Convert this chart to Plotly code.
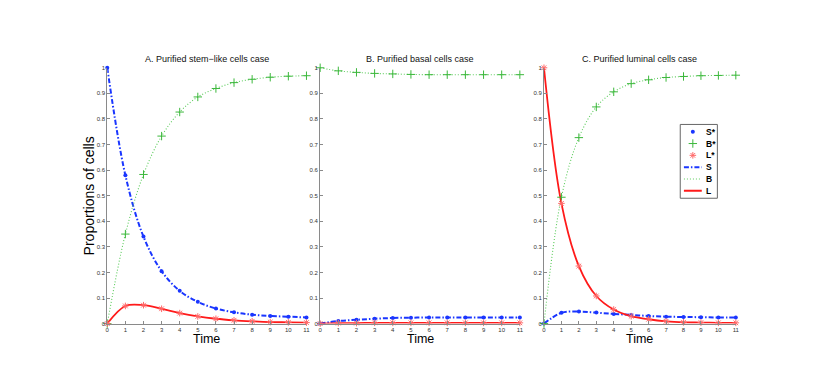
import plotly.graph_objects as go

# The page body has an 8px default margin; work in page pixels and convert.
OFF = 8
W, H = 801, 374

time = list(range(12))

panel_titles = [
    "A. Purified stem\u2212like cells case",
    "B. Purified basal cells case",
    "C. Purified luminal cells case",
]

# Panel A: purified stem-like cells
A_S = [1.0, 0.58, 0.34, 0.205, 0.128, 0.085, 0.059, 0.044, 0.035, 0.030, 0.027, 0.024]
A_B = [0.0, 0.35, 0.583, 0.733, 0.827, 0.886, 0.919, 0.942, 0.955, 0.963, 0.967, 0.969]
A_L = [0.0, 0.069, 0.072, 0.058, 0.041, 0.028, 0.019, 0.013, 0.009, 0.006, 0.005, 0.004]

# Panel B: purified basal cells
B_S = [0.0, 0.010, 0.015, 0.019, 0.022, 0.023, 0.024, 0.024, 0.024, 0.024, 0.024, 0.024]
B_B = [1.0, 0.988, 0.982, 0.978, 0.976, 0.974, 0.973, 0.973, 0.973, 0.973, 0.973, 0.973]
B_L = [0.0, 0.002, 0.002, 0.003, 0.003, 0.003, 0.003, 0.003, 0.003, 0.003, 0.003, 0.003]

# Panel C: purified luminal cells
C_S = [0.0, 0.042, 0.047, 0.043, 0.038, 0.034, 0.030, 0.027, 0.026, 0.025, 0.024, 0.024]
C_B = [0.0, 0.494, 0.727, 0.847, 0.906, 0.938, 0.953, 0.962, 0.966, 0.969, 0.970, 0.971]
C_L = [1.0, 0.47, 0.225, 0.108, 0.055, 0.029, 0.017, 0.009, 0.005, 0.004, 0.003, 0.003]

panels = [(A_S, A_B, A_L), (B_S, B_B, B_L), (C_S, C_B, C_L)]

legend_labels = ["S*", "B*", "L*", "S", "B", "L"]

y_ticks = [0, 0.1, 0.2, 0.3, 0.4, 0.5, 0.6, 0.7, 0.8, 0.9, 1]
y_ticktext = ["0", "0.1", "0.2", "0.3", "0.4", "0.5", "0.6", "0.7", "0.8", "0.9", "1"]

BLUE = "#1a36ff"
GREEN = "#3cb83c"
GREEN_L = "#5ccc5c"
RED = "#ff1a1a"
RED_M = "#ff6a6a"

S_LINE = dict(color=BLUE, width=2, dash="5px,2px,1.5px,2px")
B_LINE = dict(color=GREEN_L, width=1.1, dash="1px,2px")
L_LINE = dict(color=RED, width=1.8)
S_MARK = dict(color=BLUE, size=4, symbol="circle")
B_MARK = dict(color=GREEN, size=6, symbol="cross-thin", line=dict(color=GREEN, width=1))
L_MARK = dict(color=RED_M, size=5.5, symbol="asterisk-open", line=dict(color=RED_M, width=1))


def px_x(p):
    return (p - OFF) / W


def px_y(p):
    return 1 - (p - OFF) / H


# page-pixel layout of the axes
x_px = [(106, 306.7), (320.5, 521.7), (546, 739.3)]
y_px = (65.7, 325.7)  # top, bottom
leg_px = (683.3, 720.7, 123.3, 198.3)  # left, right, top, bottom

fig = go.Figure()

for i, (S, B, L) in enumerate(panels):
    xa = "x" if i == 0 else f"x{i+1}"
    ya = "y" if i == 0 else f"y{i+1}"
    common = dict(x=time, xaxis=xa, yaxis=ya, cliponaxis=False, hoverinfo="skip", showlegend=False)
    fig.add_trace(go.Scatter(y=S, mode="lines", name="S", line=dict(shape="spline", **S_LINE), **common))
    fig.add_trace(go.Scatter(y=B, mode="lines", name="B", line=dict(shape="spline", **B_LINE), **common))
    fig.add_trace(go.Scatter(y=L, mode="lines", name="L", line=dict(shape="spline", **L_LINE), **common))
    fig.add_trace(go.Scatter(y=S, mode="markers", name="S*", marker=S_MARK, **common))
    fig.add_trace(go.Scatter(y=B, mode="markers", name="B*", marker=B_MARK, **common))
    fig.add_trace(go.Scatter(y=L, mode="markers", name="L*", marker=L_MARK, **common))

# Legend drawn on its own hidden axis (x4/y4), in pixel units of the box
lw = leg_px[1] - leg_px[0]
lh = leg_px[3] - leg_px[2]
leg_common = dict(xaxis="x4", yaxis="y4", showlegend=False, hoverinfo="skip", cliponaxis=False)
item_y = [7.4 + k * 12 for k in range(6)]
marker_styles = [S_MARK, B_MARK, L_MARK]
line_styles = [S_LINE, B_LINE, L_LINE]
for k in range(3):
    fig.add_trace(go.Scatter(x=[696 - leg_px[0]], y=[item_y[k]], mode="markers",
                             marker=marker_styles[k], **leg_common))
for k in range(3):
    fig.add_trace(go.Scatter(x=[687 - leg_px[0], 705 - leg_px[0]], y=[item_y[k + 3]] * 2, mode="lines",
                             line=line_styles[k], **leg_common))

axis_common = dict(showline=True, linecolor="#8a8a8a", linewidth=1, ticks="inside", ticklen=3,
                   tickcolor="#8a8a8a", tickfont=dict(size=6, color="#333333", family="Liberation Sans"),
                   showgrid=False, zeroline=False, fixedrange=True)

layout = dict(
    width=W, height=H, margin=dict(l=0, r=0, t=0, b=0),
    paper_bgcolor="white", plot_bgcolor="rgba(0,0,0,0)",
    font=dict(family="Liberation Sans", color="black"),
    showlegend=False,
    annotations=[],
    shapes=[],
)

ydom = [px_y(y_px[1]), px_y(y_px[0])]
for i in range(3):
    xk = "xaxis" if i == 0 else f"xaxis{i+1}"
    yk = "yaxis" if i == 0 else f"yaxis{i+1}"
    xref = "x" if i == 0 else f"x{i+1}"
    yref = "y" if i == 0 else f"y{i+1}"
    layout[xk] = dict(domain=[px_x(x_px[i][0]), px_x(x_px[i][1])], range=[0, 11],
                      tickvals=time, ticktext=[str(t) for t in time], anchor=yref, **axis_common)
    layout[yk] = dict(domain=ydom, range=[0, 1], tickvals=y_ticks, ticktext=y_ticktext,
                      anchor=xref, **axis_common)
    cx = px_x((x_px[i][0] + x_px[i][1]) / 2)
    layout["annotations"].append(dict(text=panel_titles[i], x=cx, y=px_y(57), xref="paper", yref="paper",
                                      showarrow=False, font=dict(size=9, color="#111111"),
                                      xanchor="center", yanchor="middle"))
    layout["annotations"].append(dict(text="Time", x=cx, y=px_y(341), xref="paper", yref="paper",
                                      showarrow=False, font=dict(size=12.5, color="black"),
                                      xanchor="center", yanchor="middle"))

layout["annotations"].append(dict(text="Proportions of cells", x=px_x(88), y=px_y(196), xref="paper",
                                  yref="paper", showarrow=False, textangle=-90,
                                  font=dict(size=14, color="black"), xanchor="center", yanchor="middle"))

# legend axis and box
layout["xaxis4"] = dict(domain=[px_x(leg_px[0]), px_x(leg_px[1])], range=[0, lw], visible=False,
                        anchor="y4", fixedrange=True)
layout["yaxis4"] = dict(domain=[px_y(leg_px[3]), px_y(leg_px[2])], range=[lh, 0], visible=False,
                        anchor="x4", fixedrange=True)
layout["shapes"].append(dict(type="rect", xref="paper", yref="paper",
                             x0=px_x(leg_px[0]), x1=px_x(leg_px[1]),
                             y0=px_y(leg_px[3]), y1=px_y(leg_px[2]),
                             line=dict(color="#666666", width=1), fillcolor="white", layer="below"))
for k, lab in enumerate(legend_labels):
    layout["annotations"].append(dict(text="<b>" + lab + "</b>", x=707 - leg_px[0], y=item_y[k],
                                      xref="x4", yref="y4", showarrow=False, xanchor="left",
                                      yanchor="middle", font=dict(size=8.5, color="black")))

fig.update_layout(**layout)
fig.write_html("out.html")
